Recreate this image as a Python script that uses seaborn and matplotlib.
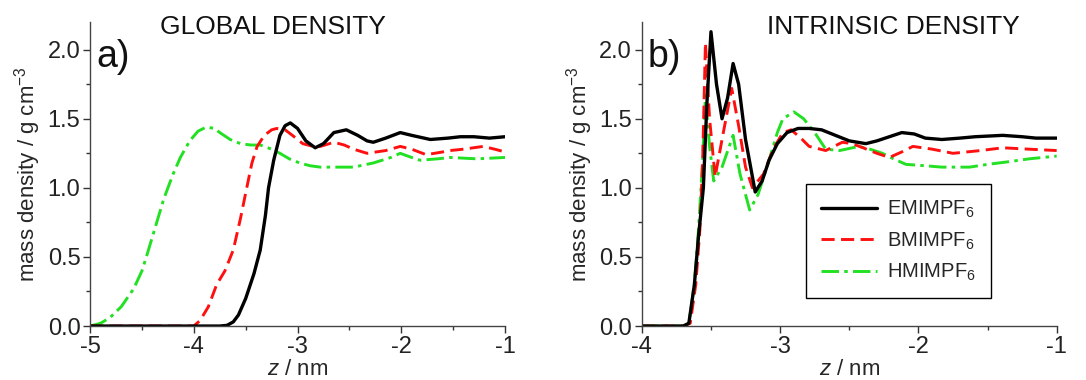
import numpy as np
import pandas as pd
import seaborn as sns
import matplotlib.pyplot as plt
from matplotlib.ticker import MultipleLocator

# ---- panel a) global density ----
z_emim_a = [-5.0, -4.0, -3.75, -3.68, -3.62, -3.57, -3.50, -3.42, -3.36, -3.31, -3.28, -3.23, -3.17, -3.12,
            -3.07, -3.00, -2.92, -2.83, -2.75, -2.65, -2.53, -2.42, -2.33, -2.27, -2.15, -2.01, -1.90,
            -1.72, -1.55, -1.43, -1.30, -1.15, -1.0]
d_emim_a = [0.0, 0.0, 0.0, 0.005, 0.03, 0.08, 0.20, 0.38, 0.55, 0.80, 1.00, 1.20, 1.38, 1.45,
            1.47, 1.43, 1.34, 1.29, 1.32, 1.40, 1.42, 1.38, 1.34, 1.33, 1.36, 1.40, 1.38,
            1.35, 1.36, 1.37, 1.37, 1.36, 1.37]

z_bmim_a = [-5.0, -4.0, -3.94, -3.86, -3.78, -3.70, -3.62, -3.55, -3.49, -3.44, -3.39, -3.32, -3.25, -3.20,
            -3.12, -3.05, -2.95, -2.85, -2.78, -2.65, -2.55, -2.46, -2.33, -2.15, -2.01, -1.90, -1.76,
            -1.60, -1.53, -1.40, -1.21, -1.10, -1.0]
d_bmim_a = [0.0, 0.0, 0.04, 0.14, 0.30, 0.40, 0.55, 0.78, 1.00, 1.18, 1.30, 1.38, 1.42, 1.43,
            1.42, 1.38, 1.32, 1.30, 1.30, 1.33, 1.31, 1.28, 1.25, 1.27, 1.30, 1.28, 1.24,
            1.26, 1.27, 1.28, 1.30, 1.28, 1.26]

z_hmim_a = [-5.0, -4.90, -4.81, -4.70, -4.58, -4.50, -4.45, -4.37, -4.29, -4.20, -4.13, -4.04, -3.96, -3.88,
            -3.80, -3.75, -3.65, -3.55, -3.45, -3.36, -3.25, -3.17, -3.08, -2.98, -2.88, -2.78, -2.60,
            -2.46, -2.27, -2.10, -2.01, -1.90, -1.82, -1.65, -1.53, -1.27, -1.0]
d_hmim_a = [0.0, 0.02, 0.06, 0.14, 0.27, 0.40, 0.52, 0.72, 0.92, 1.10, 1.22, 1.34, 1.41, 1.44,
            1.43, 1.40, 1.35, 1.32, 1.31, 1.31, 1.28, 1.25, 1.21, 1.18, 1.16, 1.15, 1.15,
            1.15, 1.18, 1.22, 1.25, 1.22, 1.20, 1.21, 1.22, 1.21, 1.22]

# ---- panel b) intrinsic density ----
z_emim_b = [-4.0, -3.70, -3.66, -3.62, -3.59, -3.555, -3.53, -3.50, -3.46, -3.42, -3.38, -3.34, -3.30,
            -3.25, -3.18, -3.13, -3.08, -3.02, -2.95, -2.87, -2.79, -2.70, -2.60, -2.50, -2.38,
            -2.30, -2.24, -2.12, -2.03, -1.95, -1.83, -1.70, -1.59, -1.39, -1.25, -1.15, -1.0]
d_emim_b = [0.0, 0.0, 0.02, 0.30, 0.65, 1.00, 1.60, 2.13, 1.75, 1.50, 1.65, 1.90, 1.75,
            1.35, 0.97, 1.05, 1.20, 1.32, 1.40, 1.43, 1.43, 1.42, 1.38, 1.34, 1.32,
            1.34, 1.36, 1.40, 1.39, 1.36, 1.35, 1.36, 1.37, 1.38, 1.37, 1.36, 1.36]

z_bmim_b = [-4.0, -3.70, -3.65, -3.61, -3.58, -3.56, -3.54, -3.51, -3.47, -3.42, -3.35, -3.30, -3.25,
            -3.20, -3.12, -3.05, -2.98, -2.92, -2.85, -2.79, -2.67, -2.55, -2.48, -2.40, -2.30,
            -2.21, -2.12, -2.04, -1.90, -1.75, -1.55, -1.39, -1.20, -1.0]
d_bmim_b = [0.0, 0.0, 0.02, 0.30, 0.70, 1.20, 2.05, 1.50, 1.08, 1.35, 1.72, 1.45, 1.15,
            1.00, 1.10, 1.28, 1.40, 1.42, 1.36, 1.30, 1.27, 1.33, 1.32, 1.29, 1.25,
            1.22, 1.26, 1.30, 1.28, 1.25, 1.27, 1.29, 1.28, 1.27]

z_hmim_b = [-4.0, -3.70, -3.66, -3.62, -3.59, -3.56, -3.54, -3.51, -3.48, -3.42, -3.34, -3.29, -3.22,
            -3.16, -3.08, -3.02, -2.98, -2.90, -2.83, -2.75, -2.67, -2.57, -2.43, -2.35, -2.26,
            -2.18, -2.09, -1.95, -1.83, -1.63, -1.50, -1.34, -1.20, -1.10, -1.0]
d_hmim_b = [0.0, 0.0, 0.02, 0.30, 0.70, 1.20, 1.67, 1.30, 1.05, 1.15, 1.38, 1.10, 0.84,
            0.95, 1.20, 1.40, 1.50, 1.55, 1.50, 1.40, 1.28, 1.27, 1.30, 1.28, 1.25,
            1.21, 1.17, 1.16, 1.15, 1.15, 1.17, 1.19, 1.21, 1.22, 1.23]

labels = ["EMIMPF$_6$", "BMIMPF$_6$", "HMIMPF$_6$"]
colors = ["black", "#ff1010", "#22e022"]
styles = ["-", (0, (4.5, 2.2)), (0, (6, 1.8, 1.2, 1.8))]

sns.set_style("ticks")
plt.rcParams["font.family"] = ["Liberation Sans", "DejaVu Sans"]
plt.rcParams["mathtext.fontset"] = "custom"
plt.rcParams["mathtext.rm"] = "Liberation Sans"
plt.rcParams["mathtext.it"] = "Liberation Sans:italic"

fig = plt.figure(figsize=(10.86, 3.8), dpi=100)
ax_a = fig.add_axes([0.083, 0.142, 0.382, 0.80])
ax_b = fig.add_axes([0.591, 0.142, 0.382, 0.80])

panels = [
    (ax_a, [(z_emim_a, d_emim_a), (z_bmim_a, d_bmim_a), (z_hmim_a, d_hmim_a)], (-5, -1), "GLOBAL DENSITY", 0.44, "a)"),
    (ax_b, [(z_emim_b, d_emim_b), (z_bmim_b, d_bmim_b), (z_hmim_b, d_hmim_b)], (-4, -1), "INTRINSIC DENSITY", 0.607, "b)"),
]

for ax, series, xlim, title, tx, tag in panels:
    # draw back to front so black stays on top like in the original
    for i in [2, 1, 0]:
        z, d = series[i]
        df = pd.DataFrame({"z": z, "d": d})
        sns.lineplot(data=df, x="z", y="d", ax=ax, color=colors[i], linestyle=styles[i],
                     linewidth=2.4 if i == 0 else 2.1, label=labels[i], sort=False)
    ax.set_xlim(*xlim)
    ax.set_ylim(0, 2.2)
    ax.xaxis.set_major_locator(MultipleLocator(1))
    ax.xaxis.set_minor_locator(MultipleLocator(0.5))
    ax.yaxis.set_major_locator(MultipleLocator(0.5))
    ax.yaxis.set_minor_locator(MultipleLocator(0.25))
    ax.set_yticks([0, 0.5, 1.0, 1.5, 2.0])
    ax.tick_params(axis="both", which="major", direction="out", length=5, width=1,
                   labelsize=17, colors="#333333", labelcolor="#222222", pad=2)
    ax.tick_params(axis="both", which="minor", direction="out", length=3, width=1, colors="#333333")
    ax.xaxis.set_major_formatter(plt.FuncFormatter(lambda v, p: f"{v:.0f}"))
    sns.despine(ax=ax)
    for s in ["left", "bottom"]:
        ax.spines[s].set_color("#444444")
        ax.spines[s].set_linewidth(1.0)
    ax.set_xlabel("$z$ / nm", fontsize=16, labelpad=1)
    ax.set_ylabel("mass density / g cm$^{-3}$", fontsize=16, labelpad=3)
    ax.text(tx, 0.985, title, transform=ax.transAxes, ha="center", va="center", fontsize=19, color="#111111")
    ax.text(0.015, 0.885, tag, transform=ax.transAxes, ha="left", va="center", fontsize=27, color="#111111")

ax_a.get_legend().remove()
handles, labs = ax_b.get_legend_handles_labels()
order = [labs.index(l) for l in labels]
leg = ax_b.legend([handles[k] for k in order], [labs[k] for k in order],
                  loc="lower left", bbox_to_anchor=(0.395, 0.092), borderaxespad=0, fontsize=14.5,
                  handlelength=2.8, handletextpad=0.5, frameon=True, fancybox=False, framealpha=1,
                  edgecolor="black", borderpad=0.75, labelspacing=0.5)
leg.get_frame().set_linewidth(1.0)

fig.savefig("out.png", dpi=100)
